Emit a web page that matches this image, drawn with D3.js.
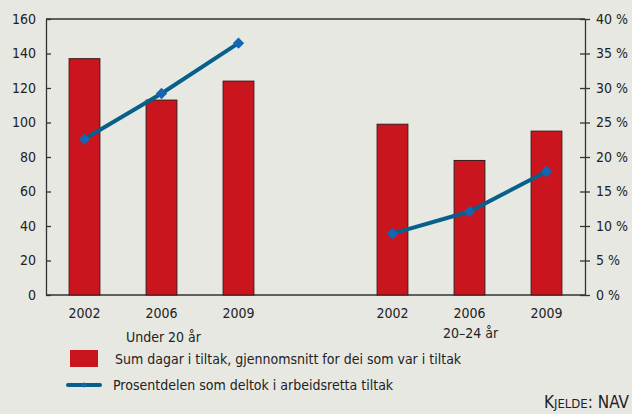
<!DOCTYPE html>
<html>
<head>
  <script src="https://d3js.org/d3.v7.min.js"></script>
  <style>
    body { margin: 0; background: #e8e8e3; }
    svg { display: block; }
    text { font-family: "DejaVu Sans Condensed", "DejaVu Sans", sans-serif; fill: #222; }
    .axis path, .axis line { stroke: #333; stroke-width: 1.3; }
    .axis text { font-size: 14px; fill: #222; }
  </style>
</head>
<body>
  <svg id="chart" width="632" height="414"></svg>
  <script>
    var years = ['2002', '2006', '2009'];
    var groups = ['Under 20 år', '20–24 år'];
    var days = [[137, 113, 124], [99, 78, 95]];
    var pct = [[22.6, 29.2, 36.5], [8.9, 12.1, 17.9]];
    var leftTicks = [0, 20, 40, 60, 80, 100, 120, 140, 160];
    var rightTicks = [0, 5, 10, 15, 20, 25, 30, 35, 40];

    var plotL = 46, plotR = 585, plotT = 19, plotB = 295;
    var svg = d3.select('#chart');

    // 7 slots: 3 years, one empty gap, 3 years
    var slots = ['0', '1', '2', 'gap', '3', '4', '5'];
    var x = d3.scaleBand().domain(slots).range([plotL, plotR]).paddingInner(0.6).paddingOuter(0.3);
    var yL = d3.scaleLinear().domain([0, 160]).range([plotB, plotT]);
    var yR = d3.scaleLinear().domain([0, 40]).range([plotB, plotT]);

    var points = [];
    groups.forEach(function (g, gi) {
      years.forEach(function (yr, i) {
        points.push({ slot: String(gi * 3 + i), year: yr, group: gi, days: days[gi][i], pct: pct[gi][i] });
      });
    });

    // frame top line
    svg.append('line').attr('x1', plotL).attr('x2', plotR).attr('y1', plotT).attr('y2', plotT)
      .attr('stroke', '#333').attr('stroke-width', 1.3);

    svg.append('g').attr('class', 'axis')
      .attr('transform', 'translate(' + plotL + ',0)')
      .call(d3.axisLeft(yL).tickValues(leftTicks).tickSizeInner(5).tickSizeOuter(0).tickPadding(5))
      .call(function (g) { g.selectAll('.tick line').attr('x2', 5); g.selectAll('text').attr('font-family', null); });

    svg.append('g').attr('class', 'axis')
      .attr('transform', 'translate(' + plotR + ',0)')
      .call(d3.axisRight(yR).tickValues(rightTicks).tickSizeInner(5).tickSizeOuter(0).tickPadding(6)
        .tickFormat(function (d) { return d + ' %'; }))
      .call(function (g) { g.selectAll('.tick line').attr('x1', -5); g.selectAll('text').attr('font-family', null); });

    svg.append('line').attr('x1', plotL).attr('x2', plotR).attr('y1', plotB).attr('y2', plotB)
      .attr('stroke', '#333').attr('stroke-width', 1.3);

    // bars
    svg.selectAll('rect.bar').data(points).enter().append('rect')
      .attr('class', 'bar')
      .attr('x', function (d) { return x(d.slot); })
      .attr('width', x.bandwidth())
      .attr('y', function (d) { return yL(d.days); })
      .attr('height', function (d) { return plotB - yL(d.days); })
      .attr('fill', '#cb151e')
      .attr('stroke', '#3a1a1a')
      .attr('stroke-width', 1);

    // year labels
    svg.selectAll('text.year').data(points).enter().append('text')
      .attr('class', 'year')
      .attr('x', function (d) { return x(d.slot) + x.bandwidth() / 2; })
      .attr('y', 318)
      .attr('text-anchor', 'middle')
      .attr('font-size', 14)
      .text(function (d) { return d.year; });

    // group labels
    svg.append('text').attr('x', x('1') + x.bandwidth() / 2 + 2).attr('y', 342)
      .attr('text-anchor', 'middle').attr('font-size', 14).text(groups[0]);
    svg.append('text').attr('x', x('4') + x.bandwidth() / 2 + 1).attr('y', 338)
      .attr('text-anchor', 'middle').attr('font-size', 14).text(groups[1]);

    // lines
    var line = d3.line()
      .x(function (d) { return x(d.slot) + x.bandwidth() / 2; })
      .y(function (d) { return yR(d.pct); });

    var marker = d3.symbol().type(d3.symbolSquare).size(64);

    [0, 1].forEach(function (gi) {
      var seg = points.filter(function (d) { return d.group === gi; });
      svg.append('path').datum(seg)
        .attr('d', line)
        .attr('fill', 'none')
        .attr('stroke', '#08608a')
        .attr('stroke-width', 4);
      svg.selectAll('path.m' + gi).data(seg).enter().append('path')
        .attr('class', 'm' + gi)
        .attr('transform', function (d) {
          return 'translate(' + (x(d.slot) + x.bandwidth() / 2) + ',' + yR(d.pct) + ') rotate(45)';
        })
        .attr('d', marker)
        .attr('fill', '#1466b4');
    });

    // legend
    svg.append('rect').attr('x', 70).attr('y', 350).attr('width', 28).attr('height', 17).attr('fill', '#cb151e');
    svg.append('text').attr('x', 115).attr('y', 364).attr('font-size', 14)
      .text('Sum dagar i tiltak, gjennomsnitt for dei som var i tiltak');
    svg.append('line').attr('x1', 68).attr('x2', 100).attr('y1', 385).attr('y2', 385)
      .attr('stroke', '#08608a').attr('stroke-width', 4).attr('stroke-linecap', 'round');
    svg.append('path').attr('transform', 'translate(84,385) rotate(45)')
      .attr('d', d3.symbol().type(d3.symbolSquare).size(16)).attr('fill', '#1466b4');
    svg.append('text').attr('x', 113).attr('y', 390).attr('font-size', 14)
      .text('Prosentdelen som deltok i arbeidsretta tiltak');

    // source
    var src = svg.append('text').attr('x', 629).attr('y', 408).attr('text-anchor', 'end').attr('font-size', 17);
    src.append('tspan').text('K');
    src.append('tspan').attr('font-size', 13).text('JELDE');
    src.append('tspan').text(': NAV');
  </script>
</body>
</html>
